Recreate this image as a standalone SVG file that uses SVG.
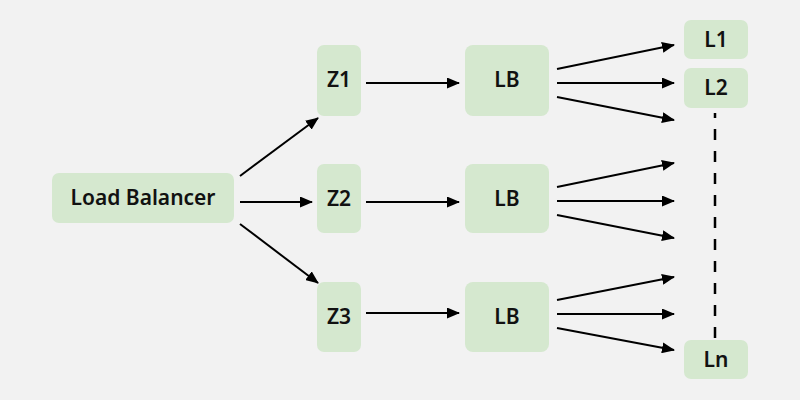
<svg xmlns="http://www.w3.org/2000/svg" width="800" height="400" viewBox="0 0 800 400">
<style>
.box{fill:#d5e8cf}
.t{font-family:"Noto Sans","Open Sans",sans-serif;font-weight:600;font-size:21px;fill:#111;text-anchor:middle;dominant-baseline:central}
.c{stroke:#000;stroke-width:2;fill:none;marker-end:url(#ah)}
</style>
<defs>
<marker id="ah" markerUnits="userSpaceOnUse" markerWidth="13" markerHeight="11" refX="12" refY="5.5" orient="auto">
<path d="M0,0 L13,5.5 L0,11 z" fill="#000"/>
</marker>
</defs>
<rect width="800" height="400" fill="#f2f2f2"/>
<g id="lb-main"><rect class="box" x="52" y="173" width="182" height="50" rx="7"/><text class="t" x="143" y="197">Load Balancer</text></g>
<g id="z1"><rect class="box" x="317" y="45" width="44" height="71" rx="7"/><text class="t" x="339" y="79">Z1</text></g>
<g id="z2"><rect class="box" x="317" y="164" width="44" height="69" rx="7"/><text class="t" x="339" y="198">Z2</text></g>
<g id="z3"><rect class="box" x="317" y="282" width="44" height="70" rx="7"/><text class="t" x="339" y="316">Z3</text></g>
<g id="lb1"><rect class="box" x="465" y="45" width="84" height="71" rx="8"/><text class="t" x="507" y="79">LB</text></g>
<g id="lb2"><rect class="box" x="465" y="164" width="84" height="69" rx="8"/><text class="t" x="507" y="198">LB</text></g>
<g id="lb3"><rect class="box" x="465" y="282" width="84" height="70" rx="8"/><text class="t" x="507" y="316">LB</text></g>
<g id="l1"><rect class="box" x="684" y="20" width="64" height="39" rx="7"/><text class="t" x="716" y="39">L1</text></g>
<g id="l2"><rect class="box" x="684" y="68" width="64" height="40" rx="7"/><text class="t" x="716" y="87">L2</text></g>
<g id="ln"><rect class="box" x="684" y="340" width="64" height="39" rx="7"/><text class="t" x="716" y="359">Ln</text></g>
<g id="connectors">
<path class="c" d="M240,176 L318,118"/>
<path class="c" d="M240,202 L312,202"/>
<path class="c" d="M240,224 L318,283"/>
<path class="c" d="M366,83 L459,83"/>
<path class="c" d="M366,202 L459,202"/>
<path class="c" d="M366,313 L459,313"/>
<path class="c" d="M557,69 L674,45"/>
<path class="c" d="M557,83 L674,83"/>
<path class="c" d="M557,97 L674,120"/>
<path class="c" d="M557,187 L674,163"/>
<path class="c" d="M557,201 L674,201"/>
<path class="c" d="M557,215 L674,238"/>
<path class="c" d="M557,300 L674,277"/>
<path class="c" d="M557,314 L674,314"/>
<path class="c" d="M557,328 L674,350"/>
<path d="M715,113 L715,338" stroke="#000" stroke-width="2.5" stroke-dasharray="11,11" stroke-dashoffset="6" fill="none"/>
</g>
</svg>
